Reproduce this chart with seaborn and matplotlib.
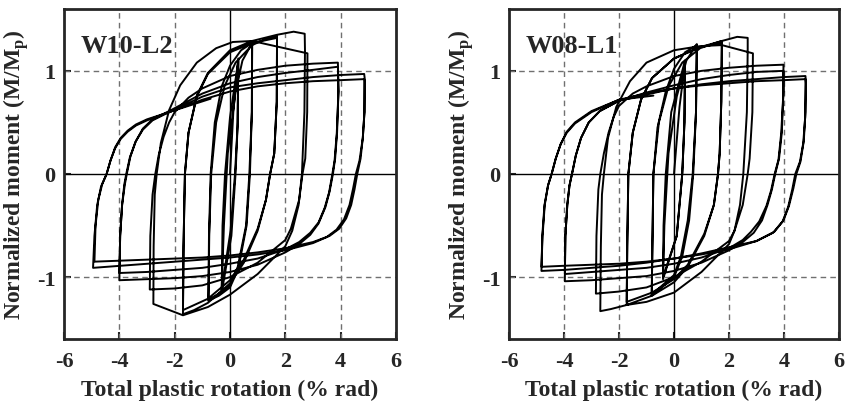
import pandas as pd
import seaborn as sns
import matplotlib.pyplot as plt

# Hysteresis-Schleifen (Rotation in % rad, M/Mp)
# W10-L2, je Amplitudenstufe ein Pfadstück
w10_small = [(0, 0), (0.12, 0.6), (0.3, 1.12), (0.28, 0.5), (0.2, 0.0), (0.05, -0.6), (-0.3, -1.15),
             (-0.27, -0.5), (-0.18, 0.0), (0.0, 0.55), (0.3, 1.1), (0.27, 0.45), (0.18, 0.0),
             (0.02, -0.55), (-0.3, -1.12)]
w10_1pct = [(-0.3, -1.12), (-0.22, -0.5), (-0.08, 0.2), (0.2, 0.8), (0.45, 1.1), (0.8, 1.27),
            (0.79, 0.6), (0.72, 0.0), (0.6, -0.5), (0.3, -0.92), (0.0, -1.1), (-0.4, -1.18), (-0.78, -1.23),
            (-0.76, -0.6), (-0.7, 0.0), (-0.55, 0.5), (-0.3, 0.85), (0.0, 1.05), (0.4, 1.2), (0.8, 1.27),
            (0.79, 0.6), (0.7, 0.0), (0.58, -0.5), (0.28, -0.9), (0.0, -1.08), (-0.4, -1.16), (-0.78, -1.22)]
w10_2pct = [(-0.78, -1.22), (-0.75, -0.6), (-0.68, 0.0), (-0.5, 0.5), (-0.2, 0.85), (0.2, 1.08), (0.8, 1.25),
            (1.3, 1.31), (1.7, 1.34),
            (1.69, 0.7), (1.6, 0.2), (1.45, 0.0), (1.3, -0.25), (1.0, -0.55), (0.5, -0.86), (0.0, -1.06),
            (-0.8, -1.25), (-1.3, -1.32), (-1.7, -1.36),
            (-1.68, -0.7), (-1.63, 0.0), (-1.5, 0.4), (-1.2, 0.75), (-0.8, 0.97), (0.0, 1.18), (0.8, 1.27),
            (1.7, 1.32),
            (1.69, 0.7), (1.6, 0.2), (1.45, 0.0), (1.3, -0.25), (1.0, -0.53), (0.5, -0.83), (0.0, -1.03),
            (-0.8, -1.21), (-1.7, -1.32)]
w10_3pct = [(-1.7, -1.32), (-1.68, -0.7), (-1.63, 0.0), (-1.5, 0.4), (-1.2, 0.76), (-0.8, 0.98), (0.0, 1.2),
            (0.8, 1.29), (1.7, 1.35), (2.3, 1.38), (2.7, 1.36),
            (2.71, 1.2), (2.69, 0.6), (2.6, 0.0), (2.48, -0.3), (2.25, -0.55), (2.0, -0.7), (1.0, -0.97),
            (0.0, -1.17), (-0.8, -1.29), (-1.7, -1.37), (-2.77, -1.26),
            (-2.76, -0.7), (-2.72, -0.2), (-2.65, 0.0), (-2.5, 0.3), (-2.2, 0.62), (-1.8, 0.86), (-1.2, 1.08),
            (-0.5, 1.22), (0.1, 1.28), (0.8, 1.29), (2.8, 1.17),
            (2.79, 0.6), (2.72, 0.15), (2.62, 0.0), (2.5, -0.25), (2.2, -0.53), (2.0, -0.64), (1.0, -0.86),
            (0.0, -1.0), (-1.0, -1.08), (-2.0, -1.11), (-2.9, -1.12)]
w10_4pct = [(-2.9, -1.12), (-2.88, -0.6), (-2.8, -0.2), (-2.7, 0.0), (-2.58, 0.18), (-2.4, 0.36),
            (-2.2, 0.5), (-2.0, 0.6), (-1.5, 0.74), (-1.0, 0.83), (0.0, 0.95), (1.0, 1.01), (2.0, 1.05),
            (3.0, 1.07), (3.9, 1.08),
            (3.92, 0.8), (3.87, 0.4), (3.8, 0.15), (3.72, 0.0), (3.6, -0.17), (3.45, -0.32), (3.2, -0.48),
            (2.9, -0.59), (2.5, -0.68), (2.0, -0.76), (1.0, -0.88), (0.0, -0.95), (-1.0, -0.99),
            (-2.0, -1.01), (-3.0, -1.02), (-4.0, -1.03),
            (-3.97, -0.6), (-3.9, -0.3), (-3.8, -0.1), (-3.73, 0.0), (-3.6, 0.17), (-3.4, 0.32),
            (-3.15, 0.44), (-2.8, 0.53), (-2.2, 0.61), (-1.0, 0.78), (0.0, 0.88), (1.0, 0.94), (2.0, 0.98),
            (3.0, 1.01), (3.9, 1.04),
            (3.92, 0.8), (3.86, 0.4), (3.78, 0.13), (3.7, 0.0), (3.58, -0.18), (3.42, -0.33), (3.2, -0.47),
            (2.9, -0.57), (2.5, -0.66), (2.0, -0.73), (1.0, -0.82), (0.0, -0.87), (-1.0, -0.91),
            (-2.0, -0.93), (-3.0, -0.95), (-4.0, -0.96)]
w10_5pct = [(-4.0, -0.96), (-3.97, -0.6), (-3.9, -0.3), (-3.82, -0.1), (-3.75, 0.0), (-3.62, 0.16),
            (-3.42, 0.31), (-3.15, 0.43), (-2.8, 0.52), (-2.2, 0.6), (-1.0, 0.75), (0.0, 0.84), (1.0, 0.88),
            (2.0, 0.91), (3.0, 0.94), (4.0, 0.96), (4.85, 0.97),
            (4.88, 0.9), (4.86, 0.6), (4.8, 0.35), (4.72, 0.15), (4.6, 0.0), (4.5, -0.15), (4.38, -0.3),
            (4.2, -0.43), (3.95, -0.53), (3.6, -0.6), (3.0, -0.67), (2.0, -0.74), (1.0, -0.78),
            (0.0, -0.81), (-1.0, -0.83), (-2.0, -0.85), (-3.0, -0.87), (-4.0, -0.89), (-4.95, -0.91),
            (-4.9, -0.6), (-4.8, -0.3), (-4.66, -0.12), (-4.46, 0.0), (-4.32, 0.13), (-4.15, 0.26),
            (-3.95, 0.35), (-3.7, 0.42), (-3.4, 0.48), (-3.0, 0.53), (-2.2, 0.6), (-1.0, 0.72),
            (0.0, 0.8), (1.0, 0.85), (2.0, 0.88), (3.0, 0.9), (4.0, 0.91), (4.85, 0.92),
            (4.86, 0.6), (4.8, 0.35), (4.68, 0.13), (4.55, 0.0), (4.45, -0.14), (4.32, -0.3),
            (4.12, -0.44), (3.85, -0.54), (3.5, -0.61), (3.0, -0.66), (2.0, -0.72), (1.0, -0.76),
            (0.0, -0.79), (-1.0, -0.81), (-2.0, -0.82), (-3.0, -0.83), (-4.0, -0.84), (-4.9, -0.85),
            (-4.86, -0.5), (-4.76, -0.25), (-4.62, -0.1), (-4.46, 0.0), (-4.32, 0.13), (-4.15, 0.25),
            (-3.95, 0.34), (-3.7, 0.41), (-3.4, 0.47), (-3.0, 0.52), (-2.2, 0.6), (-0.7, 0.73)]

# W08-L1
w08_small = [(0, 0), (0.2, 0.65), (0.4, 1.08), (0.38, 0.5), (0.3, 0.0), (0.1, -0.6), (-0.4, -1.0),
             (-0.38, -0.5), (-0.3, 0.0), (-0.1, 0.6), (0.4, 1.1), (0.38, 0.5), (0.3, 0.0), (0.1, -0.6),
             (-0.4, -1.02)]
w08_1pct = [(-0.4, -1.02), (-0.35, -0.5), (-0.2, 0.2), (0.1, 0.75), (0.45, 1.1), (0.83, 1.26),
            (0.8, 0.6), (0.7, 0.0), (0.55, -0.45), (0.3, -0.8), (0.0, -1.0), (-0.81, -1.18),
            (-0.78, -0.6), (-0.75, 0.0), (-0.6, 0.45), (-0.3, 0.8), (0.0, 1.02), (0.4, 1.18), (0.83, 1.25),
            (0.8, 0.6), (0.68, 0.0), (0.5, -0.45), (0.25, -0.8), (0.0, -0.98), (-0.81, -1.17)]
w08_2pct = [(-0.81, -1.17), (-0.78, -0.6), (-0.75, 0.0), (-0.55, 0.5), (-0.2, 0.85), (0.3, 1.08),
            (0.95, 1.22), (1.74, 1.29),
            (1.72, 0.7), (1.66, 0.2), (1.6, 0.0), (1.45, -0.3), (1.1, -0.6), (0.5, -0.9), (0.0, -1.05),
            (-0.8, -1.18), (-1.72, -1.27),
            (-1.7, -0.7), (-1.66, 0.0), (-1.5, 0.4), (-1.2, 0.72), (-0.8, 0.93), (0.0, 1.12), (0.95, 1.23),
            (1.74, 1.27),
            (1.72, 0.7), (1.66, 0.2), (1.6, 0.0), (1.45, -0.3), (1.1, -0.58), (0.5, -0.88), (0.0, -1.02),
            (-0.8, -1.15), (-1.72, -1.24)]
w08_3pct = [(-1.72, -1.24), (-1.7, -0.7), (-1.66, 0.0), (-1.5, 0.4), (-1.2, 0.72), (-0.8, 0.93), (0.0, 1.12),
            (0.95, 1.23), (1.74, 1.29), (2.3, 1.33), (2.68, 1.32),
            (2.68, 1.2), (2.65, 0.6), (2.52, 0.0), (2.4, -0.3), (2.2, -0.55), (2.0, -0.68), (1.0, -0.95),
            (0.0, -1.15), (-1.0, -1.24), (-1.72, -1.27), (-2.3, -1.31), (-2.68, -1.33),
            (-2.66, -0.7), (-2.62, -0.2), (-2.55, 0.0), (-2.4, 0.35), (-2.1, 0.65), (-1.6, 0.9), (-1.0, 1.08),
            (0.0, 1.2), (0.95, 1.24), (1.74, 1.25), (2.87, 1.17),
            (2.85, 0.6), (2.75, 0.15), (2.68, 0.0), (2.5, -0.3), (2.2, -0.55), (2.0, -0.65), (1.0, -0.85),
            (0.0, -1.0), (-1.0, -1.1), (-2.0, -1.14), (-2.84, -1.16)]
w08_4pct = [(-2.84, -1.16), (-2.82, -0.6), (-2.75, -0.15), (-2.68, 0.0), (-2.55, 0.2), (-2.38, 0.4),
            (-2.2, 0.55), (-2.0, 0.66), (-1.5, 0.78), (-1.0, 0.85), (0.0, 0.95), (1.0, 1.0), (2.0, 1.03),
            (3.0, 1.05), (3.98, 1.06),
            (3.98, 0.8), (3.92, 0.4), (3.82, 0.15), (3.68, 0.0), (3.56, -0.15), (3.4, -0.3), (3.2, -0.45),
            (2.9, -0.57), (2.5, -0.66), (2.0, -0.74), (1.0, -0.86), (0.0, -0.94), (-1.0, -0.99),
            (-2.0, -1.01), (-3.0, -1.03), (-3.97, -1.04),
            (-3.95, -0.6), (-3.88, -0.3), (-3.8, -0.11), (-3.71, 0.0), (-3.57, 0.18), (-3.38, 0.35),
            (-3.1, 0.5), (-2.7, 0.61), (-2.0, 0.71), (-1.0, 0.79), (0.0, 0.86), (1.0, 0.92), (2.0, 0.96),
            (3.0, 0.99), (3.98, 1.0),
            (3.98, 0.8), (3.9, 0.4), (3.8, 0.14), (3.66, 0.0), (3.53, -0.16), (3.36, -0.31), (3.1, -0.46),
            (2.8, -0.56), (2.5, -0.64), (2.0, -0.72), (1.0, -0.81), (0.0, -0.87), (-1.0, -0.91),
            (-2.0, -0.93), (-3.0, -0.95), (-3.97, -0.97)]
w08_5pct = [(-3.97, -0.97), (-3.95, -0.6), (-3.88, -0.3), (-3.8, -0.11), (-3.71, 0.0), (-3.57, 0.18),
            (-3.38, 0.35), (-3.1, 0.5), (-2.7, 0.61), (-2.0, 0.71), (-1.0, 0.77), (0.0, 0.83), (1.0, 0.87),
            (2.0, 0.9), (3.0, 0.92), (4.0, 0.94), (4.78, 0.95),
            (4.8, 0.88), (4.77, 0.55), (4.7, 0.3), (4.58, 0.12), (4.41, 0.0), (4.3, -0.15), (4.15, -0.32),
            (3.95, -0.46), (3.6, -0.57), (3.0, -0.65), (2.0, -0.73), (1.0, -0.78), (0.0, -0.82),
            (-1.0, -0.85), (-2.0, -0.87), (-3.0, -0.88), (-4.0, -0.89), (-4.82, -0.9),
            (-4.78, -0.6), (-4.7, -0.3), (-4.58, -0.11), (-4.45, 0.0), (-4.3, 0.15), (-4.12, 0.29),
            (-3.9, 0.4), (-3.6, 0.49), (-3.0, 0.6), (-2.0, 0.72), (-1.0, 0.78), (0.0, 0.83), (1.0, 0.86),
            (2.0, 0.88), (3.0, 0.9), (4.0, 0.91), (4.78, 0.92),
            (4.78, 0.6), (4.72, 0.32), (4.6, 0.12), (4.45, 0.0), (4.34, -0.14), (4.18, -0.31),
            (3.98, -0.45), (3.65, -0.56), (3.0, -0.65), (2.0, -0.71), (1.0, -0.77), (0.0, -0.82),
            (-1.0, -0.86), (-2.0, -0.89), (-3.0, -0.91), (-4.0, -0.93), (-4.82, -0.94),
            (-4.79, -0.6), (-4.71, -0.3), (-4.58, -0.11), (-4.45, 0.0), (-4.3, 0.15), (-4.12, 0.29),
            (-3.9, 0.41), (-3.6, 0.5), (-3.0, 0.61), (-2.0, 0.72), (-0.75, 0.76)]

panel_names = ["W10-L2", "W08-L1"]
x_ticks = [-6, -4, -2, 0, 2, 4, 6]
y_ticks = [-1, 0, 1]


def to_frame(parts):
    pts = [p for part in parts for p in part]
    return pd.DataFrame(pts, columns=["rot", "mom"])


frames = [to_frame([w10_small, w10_1pct, w10_2pct, w10_3pct, w10_4pct, w10_5pct]),
          to_frame([w08_small, w08_1pct, w08_2pct, w08_3pct, w08_4pct, w08_5pct])]

sns.set_style("ticks")
plt.rcParams["font.family"] = ["Liberation Serif", "DejaVu Serif"]
plt.rcParams["font.weight"] = "bold"
plt.rcParams["axes.unicode_minus"] = False
plt.rcParams["mathtext.fontset"] = "custom"
plt.rcParams["mathtext.bf"] = "Liberation Serif:bold"
plt.rcParams["mathtext.rm"] = "Liberation Serif:bold"

fig = plt.figure(figsize=(8.46, 4.10), dpi=100)
axes = [fig.add_axes([64 / 846, 70 / 410, 332 / 846, 330 / 410]),
        fig.add_axes([509 / 846, 70 / 410, 330 / 846, 330 / 410])]

for ax, df, name in zip(axes, frames, panel_names):
    # Hilfslinien
    for gx in [-4, -2, 2, 4]:
        ax.axvline(gx, color="#707070", lw=1.0, ls=(0, (4, 3)), zorder=1)
    for gy in [-1, 1]:
        ax.axhline(gy, color="#707070", lw=1.0, ls=(0, (4, 3)), zorder=1)
    ax.axvline(0, color="black", lw=1.0, zorder=1)
    ax.axhline(0, color="black", lw=1.0, zorder=1)

    sns.lineplot(data=df, x="rot", y="mom", sort=False, estimator=None,
                 color="black", lw=1.4, ax=ax, zorder=3)

    ax.set_xlim(-6, 6)
    ax.set_ylim(-1.6, 1.6)
    ax.set_xticks(x_ticks)
    ax.set_yticks(y_ticks)
    ax.tick_params(direction="in", length=5, width=1.5, labelsize=16)
    ax.tick_params(axis="x", pad=9)
    ax.tick_params(axis="y", pad=6)
    for s in ax.spines.values():
        s.set_linewidth(2.0)
    ax.set_xlabel("Total plastic rotation (% rad)", fontsize=17, fontweight="bold", labelpad=5)
    ax.set_ylabel(r"Normalized moment (M/M$_\mathbf{p}$)", fontsize=17, fontweight="bold", labelpad=4)
    ax.text(0.05, 0.89, name, transform=ax.transAxes, fontsize=19, fontweight="bold",
            va="center", ha="left")

plt.savefig("out.png", dpi=100)
plt.close()
